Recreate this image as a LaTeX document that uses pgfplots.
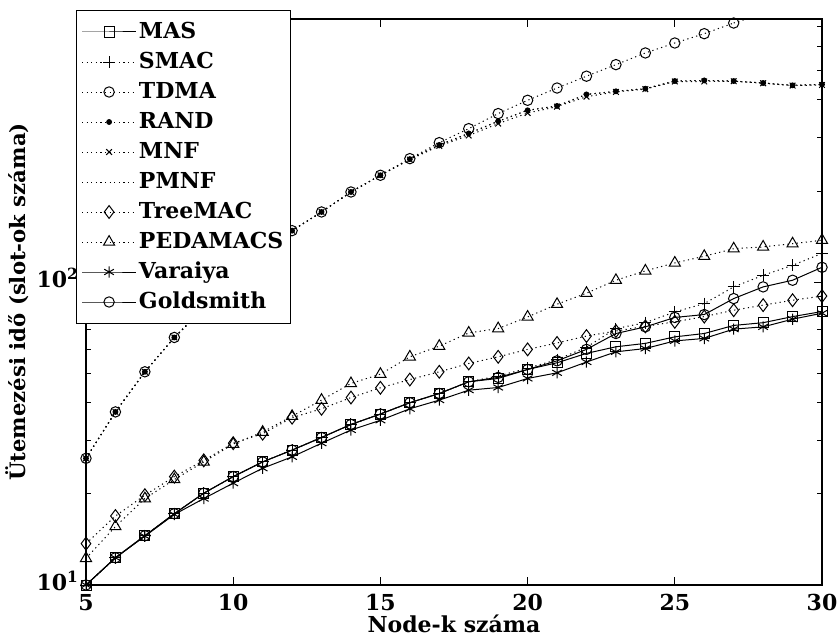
\documentclass[border=0pt]{standalone}
\usepackage{pgfplots}
\usepackage{pgfplotstable}
\pgfplotsset{compat=1.18}
\usepackage{fontspec}
\setmainfont{DejaVu Serif}
\pgfplotstableread{
x  MAS   SMAC  TDMA  RAND  MNF   PMNF  Tree  PED   Var   Gold
5  10    10    26.2  26.2  26.2  26.2  13.7  12.25 10    10
6  12.3  12.3  37.3  37.3  37.3  37.3  16.9  15.6  12.3  12.3
7  14.55 14.55 50.6  50.6  50.6  50.6  19.8  19.3  14.5  14.55
8  17.2  17.2  65.7  65.7  65.7  65.7  22.8  22.3  17.1  17.2
9  20.1  20.1  82    82    82    82    25.8  25.5  19.3  20.1
10 22.8  22.8  102   102   102   102   29.4  29.2  21.7  22.8
11 25.5  25.5  124   124   124   124   31.6  32    24.3  25.5
12 27.9  27.9  148   148   148   148   35.7  36.1  26.5  27.9
13 30.7  30.7  170.6 170.6 170.6 170.6 38.2  40.8  29.4  30.7
14 33.9  33.9  198.6 198.6 198.6 198.6 41.6  46.3  32.5  33.9
15 36.7  36.7  225.5 225.5 225.5 225.5 44.8  49.7  35    36.7
16 40    40    255.9 255   254   255   47.7  56.7  38.2  40
17 42.9  42.9  289   284   282   284   50.6  61.5  40.8  42.9
18 46.9  46.9  321.5 310   305   310   53.9  68    44    46.9
19 48.1  49    360.5 340   334   340   56.7  70.3  44.9  48.5
20 51.5  52    398.8 369.6 362   369.6 60    76.8  48.1  51.5
21 54.2  55.5  437.8 382   380   382   63    84.6  50.2  55
22 58.2  61    479   417   410   417   66.4  92    54.5  60
23 61.2  70.3  523   427   425   427   69    101.5 58.9  67.7
24 62.8  73.5  571.6 435.6 434   435.6 71.5  109   60.4  71.2
25 66    79.8  616.6 461.7 460   461.7 74    115.8 64    76.5
26 67.7  85    661.8 463.8 460   463.8 77    121.8 65.2  78.2
27 72    96.5  717.7 461.7 461   461.7 80.8  129   70    88.3
28 73.5  105.4 770   454.8 454   454.8 84    130.8 71.2  96.5
29 77    113.7 820   446.9 446   446.9 87.2  134   75.5  101.5
30 80    124.5 870   450   448   450   90    137.6 79    112
}\datatable
\begin{document}
\begin{tikzpicture}[font=\fontsize{11}{13}\selectfont\bfseries,
  mydot/.style={dash pattern=on 0.6pt off 1.7pt}]
\useasboundingbox (-43pt,-27pt) rectangle (376pt,292.5pt);
\begin{axis}[
  scale only axis, width=368pt, height=283pt,
  ymode=log, xmin=5, xmax=30, ymin=10, ymax=740,
  axis line style={line width=0.6pt},
  xtick={5,10,15,20,25,30},
  ytick={10,100},
  yticklabels={10\textsuperscript{1},10\textsuperscript{2}},
  minor ytick={20,30,40,50,60,70,80,90,200,300,400,500,600,700},
  tick align=inside,
  major tick length=4pt, minor tick length=2.5pt,
  every tick/.style={black, line width=0.5pt},
  /pgf/number format/assume math mode=true,
  tick label style={font=\fontsize{11}{13}\selectfont\bfseries},
  xticklabel style={yshift=-1pt},
  yticklabel style={yshift=2pt},
  label style={font=\fontsize{11}{13}\selectfont\bfseries},
  xlabel={Node-k száma},
  ylabel={Ütemezési idő (slot-ok száma)},
  xlabel style={yshift=5pt},
  ylabel style={yshift=-3pt, font=\fontsize{10.6}{13}\selectfont\bfseries},
  clip marker paths=false,
  every axis plot/.append style={line width=0.5pt, black},
  legend image code/.code={\draw[mark repeat=2,mark phase=2,#1] plot coordinates {(0pt,0pt) (13.5pt,0pt) (27pt,0pt)};},
  legend cell align=left,
  legend style={at={(rel axis cs:-0.0136,1.0159)}, anchor=north west,
    draw=black, line width=0.6pt, fill=white,
    inner xsep=2.5pt, inner ysep=4.5pt, row sep=2.6pt,
    font=\fontsize{11}{13}\selectfont\bfseries,
    nodes={inner sep=1.2pt, text height=8pt, text depth=2pt}},
]
\addplot[solid, mark=square, mark size=2.5pt, mark options={solid}] table[x=x,y=MAS]{\datatable};
\addlegendentry{MAS}
\addplot[mydot, mark=+, mark size=3pt, mark options={solid}] table[x=x,y=SMAC]{\datatable};
\addlegendentry{SMAC}
\addplot[mydot, mark=o, mark size=2.6pt, mark options={solid}, restrict x to domain=5:27] table[x=x,y=TDMA]{\datatable};
\addlegendentry{TDMA}
\addplot[mydot, mark=*, mark size=1.2pt, mark options={solid}] table[x=x,y=RAND]{\datatable};
\addlegendentry{RAND}
\addplot[mydot, mark=x, mark size=2pt, mark options={solid}] table[x=x,y=MNF]{\datatable};
\addlegendentry{MNF}
\addplot[mydot] table[x=x,y=PMNF]{\datatable};
\addlegendentry{PMNF}
\addplot[mydot, mark=diamond, mark size=3.2pt, mark options={solid}] table[x=x,y=Tree]{\datatable};
\addlegendentry{TreeMAC}
\addplot[mydot, mark=triangle, mark size=3.2pt, mark options={solid}] table[x=x,y=PED]{\datatable};
\addlegendentry{PEDAMACS}
\addplot[solid, mark=asterisk, mark size=2.8pt, mark options={solid}] table[x=x,y=Var]{\datatable};
\addlegendentry{Varaiya}
\addplot[solid, mark=o, mark size=2.6pt, mark options={solid}] table[x=x,y=Gold]{\datatable};
\addlegendentry{Goldsmith}
\addplot[mydot, no marks, forget plot, restrict x to domain=27:28] table[x=x,y=TDMA]{\datatable};
\end{axis}
\end{tikzpicture}
\end{document}
